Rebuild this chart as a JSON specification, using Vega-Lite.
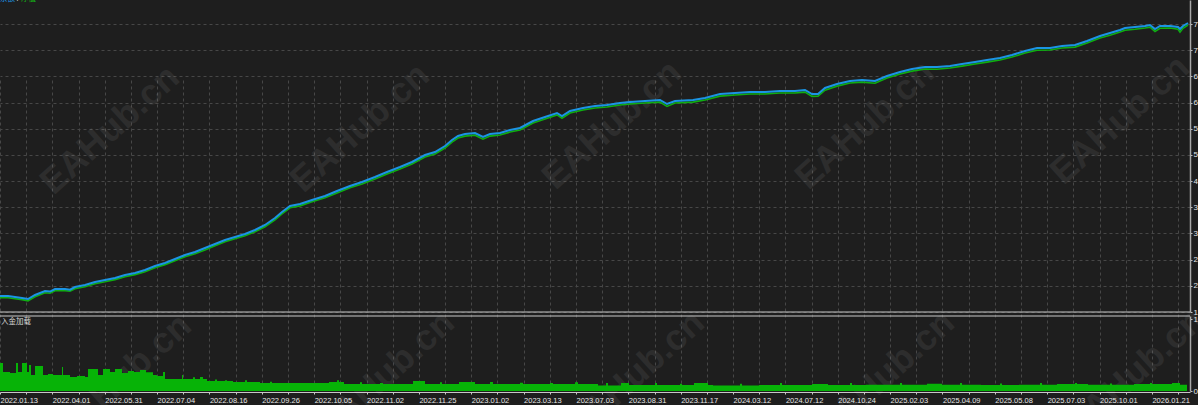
{
  "$schema": "https://vega.github.io/schema/vega-lite/v6.json",
  "width": 1190,
  "height": 392,
  "autosize": {"type": "none"},
  "padding": {"left": 0, "top": 0, "right": 8, "bottom": 13},
  "background": "#1e1e1e",
  "config": {
    "view": {"stroke": null},
    "axis": {
      "labelFont": "Liberation Sans",
      "labelFontSize": 7.5,
      "labelColor": "#e6e6e6",
      "tickColor": "#c8c8c8",
      "tickSize": 2,
      "domainColor": "#c8c8c8",
      "gridColor": "#474747",
      "gridDash": [3, 3],
      "labelOverlap": false,
      "labelFlush": false,
      "title": null
    }
  },
  "datasets": {
    "curve": [
      {"d": 0, "bal": 20361, "eq": 20000}, {"d": 8, "bal": 20361, "eq": 20000}, {"d": 15, "bal": 20151, "eq": 19800},
      {"d": 22, "bal": 19941, "eq": 19600}, {"d": 28, "bal": 19731, "eq": 19350}, {"d": 35, "bal": 20571, "eq": 20200},
      {"d": 45, "bal": 21412, "eq": 21050}, {"d": 50, "bal": 21300, "eq": 20950}, {"d": 55, "bal": 21832, "eq": 21480}, {"d": 65, "bal": 21832, "eq": 21450},
      {"d": 70, "bal": 21700, "eq": 21350}, {"d": 75, "bal": 22252, "eq": 21900}, {"d": 85, "bal": 22672, "eq": 22300}, {"d": 95, "bal": 23302, "eq": 22950},
      {"d": 105, "bal": 23723, "eq": 23350}, {"d": 115, "bal": 24143, "eq": 23800}, {"d": 125, "bal": 24773, "eq": 24400},
      {"d": 135, "bal": 25193, "eq": 24850}, {"d": 145, "bal": 25823, "eq": 25450}, {"d": 155, "bal": 26664, "eq": 26300},
      {"d": 165, "bal": 27294, "eq": 26950}, {"d": 175, "bal": 28134, "eq": 27750}, {"d": 185, "bal": 28975, "eq": 28600},
      {"d": 195, "bal": 29605, "eq": 29250}, {"d": 205, "bal": 30445, "eq": 30050}, {"d": 215, "bal": 31285, "eq": 30900},
      {"d": 225, "bal": 32126, "eq": 31750}, {"d": 235, "bal": 32756, "eq": 32400}, {"d": 245, "bal": 33386, "eq": 33000},
      {"d": 255, "bal": 34227, "eq": 33850}, {"d": 265, "bal": 35277, "eq": 34900}, {"d": 275, "bal": 36748, "eq": 36350},
      {"d": 282, "bal": 38008, "eq": 37600}, {"d": 290, "bal": 39268, "eq": 38900}, {"d": 300, "bal": 39689, "eq": 39300},
      {"d": 312, "bal": 40529, "eq": 40150}, {"d": 325, "bal": 41369, "eq": 41000}, {"d": 337, "bal": 42420, "eq": 42000},
      {"d": 350, "bal": 43470, "eq": 43100}, {"d": 362, "bal": 44310, "eq": 43900}, {"d": 375, "bal": 45361, "eq": 44950},
      {"d": 387, "bal": 46411, "eq": 46000}, {"d": 400, "bal": 47462, "eq": 47050}, {"d": 412, "bal": 48512, "eq": 48100},
      {"d": 425, "bal": 49983, "eq": 49550}, {"d": 435, "bal": 50613, "eq": 50200}, {"d": 445, "bal": 51873, "eq": 51450},
      {"d": 452, "bal": 53134, "eq": 52700}, {"d": 458, "bal": 53974, "eq": 53550}, {"d": 465, "bal": 54394, "eq": 53950},
      {"d": 475, "bal": 54604, "eq": 54150}, {"d": 483, "bal": 53764, "eq": 53300}, {"d": 490, "bal": 54394, "eq": 53950},
      {"d": 500, "bal": 54604, "eq": 54200}, {"d": 510, "bal": 55235, "eq": 54800}, {"d": 520, "bal": 55655, "eq": 55250},
      {"d": 533, "bal": 57125, "eq": 56700}, {"d": 545, "bal": 57966, "eq": 57550}, {"d": 557, "bal": 58806, "eq": 58400},
      {"d": 562, "bal": 58176, "eq": 57700}, {"d": 570, "bal": 59226, "eq": 58800}, {"d": 583, "bal": 59856, "eq": 59450},
      {"d": 595, "bal": 60276, "eq": 59850}, {"d": 607, "bal": 60487, "eq": 60050}, {"d": 620, "bal": 60907, "eq": 60500},
      {"d": 630, "bal": 61117, "eq": 60700}, {"d": 645, "bal": 61327, "eq": 60900}, {"d": 660, "bal": 61537, "eq": 61100},
      {"d": 667, "bal": 60697, "eq": 60200}, {"d": 675, "bal": 61327, "eq": 60900}, {"d": 693, "bal": 61537, "eq": 61100},
      {"d": 705, "bal": 61957, "eq": 61550}, {"d": 720, "bal": 62797, "eq": 62350}, {"d": 735, "bal": 63008, "eq": 62600},
      {"d": 750, "bal": 63218, "eq": 62800}, {"d": 765, "bal": 63218, "eq": 62800}, {"d": 780, "bal": 63428, "eq": 63000},
      {"d": 795, "bal": 63428, "eq": 63000}, {"d": 805, "bal": 63638, "eq": 63200}, {"d": 812, "bal": 62797, "eq": 62300},
      {"d": 818, "bal": 62797, "eq": 62350}, {"d": 825, "bal": 64058, "eq": 63600}, {"d": 837, "bal": 64898, "eq": 64450},
      {"d": 850, "bal": 65528, "eq": 65100}, {"d": 862, "bal": 65739, "eq": 65300}, {"d": 875, "bal": 65528, "eq": 65050},
      {"d": 887, "bal": 66579, "eq": 66150}, {"d": 900, "bal": 67419, "eq": 67000}, {"d": 912, "bal": 68049, "eq": 67600},
      {"d": 925, "bal": 68470, "eq": 68050}, {"d": 937, "bal": 68470, "eq": 68000}, {"d": 950, "bal": 68680, "eq": 68250},
      {"d": 962, "bal": 69100, "eq": 68650}, {"d": 975, "bal": 69520, "eq": 69100}, {"d": 987, "bal": 69940, "eq": 69500},
      {"d": 1000, "bal": 70360, "eq": 69950}, {"d": 1012, "bal": 70991, "eq": 70550}, {"d": 1025, "bal": 71831, "eq": 71400},
      {"d": 1037, "bal": 72461, "eq": 72000}, {"d": 1050, "bal": 72461, "eq": 72050}, {"d": 1062, "bal": 72881, "eq": 72450},
      {"d": 1075, "bal": 73091, "eq": 72650}, {"d": 1087, "bal": 73932, "eq": 73500}, {"d": 1100, "bal": 74982, "eq": 74550},
      {"d": 1110, "bal": 75612, "eq": 75150}, {"d": 1120, "bal": 76243, "eq": 75800}, {"d": 1125, "bal": 76663, "eq": 76200},
      {"d": 1135, "bal": 76873, "eq": 76400}, {"d": 1145, "bal": 77083, "eq": 76650}, {"d": 1150, "bal": 77293, "eq": 76850},
      {"d": 1155, "bal": 76453, "eq": 75950}, {"d": 1160, "bal": 77083, "eq": 76600}, {"d": 1170, "bal": 77083, "eq": 76650},
      {"d": 1178, "bal": 76873, "eq": 76400}, {"d": 1180, "bal": 76453, "eq": 75800}, {"d": 1183, "bal": 77083, "eq": 76600},
      {"d": 1188, "bal": 77713, "eq": 77300}
    ],
    "load": [
      {"d": 0, "load": 38.9}, {"d": 3, "load": 26.4}, {"d": 10, "load": 25}, {"d": 16, "load": 38.9}, {"d": 18, "load": 26.4},
      {"d": 22, "load": 38.9}, {"d": 27, "load": 26.4}, {"d": 29, "load": 36.1}, {"d": 31, "load": 22.2}, {"d": 35, "load": 34.7},
      {"d": 43, "load": 22.2}, {"d": 48, "load": 23.6}, {"d": 53, "load": 22.2}, {"d": 62, "load": 33.3}, {"d": 63, "load": 22.2},
      {"d": 70, "load": 19.4}, {"d": 77, "load": 20.8}, {"d": 85, "load": 19.4}, {"d": 88, "load": 30.6}, {"d": 98, "load": 22.2},
      {"d": 103, "load": 30.6}, {"d": 110, "load": 26.4}, {"d": 115, "load": 30.6}, {"d": 122, "load": 25}, {"d": 128, "load": 27.8},
      {"d": 134, "load": 26.4}, {"d": 140, "load": 29}, {"d": 146, "load": 26}, {"d": 153, "load": 22.2}, {"d": 157, "load": 20.8},
      {"d": 163, "load": 26.4}, {"d": 165, "load": 16.7}, {"d": 182, "load": 22.2}, {"d": 183, "load": 16.7}, {"d": 193, "load": 19},
      {"d": 195, "load": 16.7}, {"d": 200, "load": 19.4}, {"d": 203, "load": 16.7}, {"d": 207, "load": 13.9}, {"d": 215, "load": 16},
      {"d": 217, "load": 13.9}, {"d": 225, "load": 15}, {"d": 227, "load": 13.9}, {"d": 233, "load": 12.5}, {"d": 245, "load": 15},
      {"d": 247, "load": 12.5}, {"d": 260, "load": 11.1}, {"d": 270, "load": 13}, {"d": 272, "load": 11.1}, {"d": 300, "load": 11.1},
      {"d": 329, "load": 12.5}, {"d": 337, "load": 15}, {"d": 339, "load": 12.5}, {"d": 344, "load": 9.7}, {"d": 360, "load": 12},
      {"d": 362, "load": 9.7}, {"d": 380, "load": 11}, {"d": 383, "load": 9.7}, {"d": 413, "load": 13.9}, {"d": 425, "load": 9.7},
      {"d": 440, "load": 12}, {"d": 442, "load": 9.7}, {"d": 459, "load": 12.5}, {"d": 475, "load": 9.7}, {"d": 490, "load": 12.5},
      {"d": 493, "load": 9.7}, {"d": 520, "load": 11.5}, {"d": 523, "load": 9.7}, {"d": 550, "load": 11}, {"d": 553, "load": 9.7},
      {"d": 575, "load": 12}, {"d": 578, "load": 9.7}, {"d": 598, "load": 7.6}, {"d": 606, "load": 11.1}, {"d": 608, "load": 7.6},
      {"d": 621, "load": 11.1}, {"d": 629, "load": 8.3}, {"d": 655, "load": 11}, {"d": 657, "load": 8.3}, {"d": 680, "load": 10},
      {"d": 682, "load": 8.3}, {"d": 694, "load": 11.1}, {"d": 708, "load": 8.3}, {"d": 713, "load": 7.5}, {"d": 740, "load": 10},
      {"d": 742, "load": 7.5}, {"d": 759, "load": 8.5}, {"d": 780, "load": 11}, {"d": 782, "load": 8.5}, {"d": 812, "load": 9.7},
      {"d": 828, "load": 8.3}, {"d": 850, "load": 11}, {"d": 852, "load": 8.3}, {"d": 866, "load": 8.8}, {"d": 900, "load": 11},
      {"d": 902, "load": 8.8}, {"d": 927, "load": 10}, {"d": 942, "load": 8.8}, {"d": 960, "load": 11}, {"d": 962, "load": 8.8},
      {"d": 981, "load": 8.3}, {"d": 1000, "load": 10.5}, {"d": 1002, "load": 8.3}, {"d": 1019, "load": 8.8}, {"d": 1040, "load": 11},
      {"d": 1042, "load": 8.8}, {"d": 1057, "load": 9.7}, {"d": 1075, "load": 11}, {"d": 1077, "load": 9.7}, {"d": 1088, "load": 8.8},
      {"d": 1110, "load": 10.5}, {"d": 1112, "load": 8.8}, {"d": 1134, "load": 9.7}, {"d": 1150, "load": 11}, {"d": 1152, "load": 9.7},
      {"d": 1172, "load": 11.1}, {"d": 1180, "load": 8.8}, {"d": 1187, "load": 0}
    ],
    "wmTop": [
      {"d": 110, "v": 55232, "t": "EAHub.cn"}, {"d": 360, "v": 55654, "t": "EAHub.cn"}, {"d": 612, "v": 56285, "t": "EAHub.cn"},
      {"d": 865, "v": 56285, "t": "EAHub.cn"}, {"d": 1120, "v": 57336, "t": "EAHub.cn"}
    ],
    "wmBottom": [
      {"d": 122, "p": 18, "t": "EAHub.cn"}, {"d": 385, "p": 22, "t": "EAHub.cn"}, {"d": 635, "p": 22, "t": "EAHub.cn"},
      {"d": 885, "p": 22, "t": "EAHub.cn"}, {"d": 1135, "p": 25, "t": "EAHub.cn"}
    ]
  },
  "layer": [
    {
      "layer": [
        {
          "data": {"name": "wmTop"},
          "mark": {"type": "text", "font": "Liberation Sans", "fontWeight": "bold", "fontSize": 36, "angle": -42, "color": "#ffffff", "opacity": 0.065, "align": "center", "baseline": "middle"},
          "encoding": {
            "x": {"field": "d", "type": "quantitative", "scale": {"domain": [0, 1190], "nice": false, "zero": false},
              "axis": {
                "orient": "bottom",
                "tickCount": 1000,
                "values": [0, 26.18, 52.36, 78.54, 104.72, 130.9, 157.08, 183.26, 209.44, 235.62, 261.8, 287.98, 314.16, 340.34, 366.52, 392.7, 418.88, 445.06, 471.24, 497.42, 523.6, 549.78, 575.96, 602.14, 628.32, 654.5, 680.68, 706.86, 733.04, 759.22, 785.4, 811.58, 837.76, 863.94, 890.12, 916.3, 942.48, 968.66, 994.84, 1021.02, 1047.2, 1073.38, 1099.56, 1125.74, 1151.92, 1178.1],
                "labelExpr": "round(datum.value/26.18) % 2 == 0 ? ['2022.01.13','2022.04.01','2022.05.31','2022.07.04','2022.08.16','2022.09.26','2022.10.05','2022.11.02','2022.11.25','2023.01.02','2023.03.13','2023.07.03','2023.08.31','2023.11.17','2024.03.12','2024.07.12','2024.10.24','2025.02.03','2025.04.09','2025.05.08','2025.07.03','2025.10.01','2026.01.21'][round(datum.value/52.36)] : ''",
                "labelAlign": "left",
                "labelPadding": 2,
                "labelOverlap": false,
                "grid": true,
                "domain": true
              }
            },
            "y": {"field": "v", "type": "quantitative", "scale": {"domain": [17000, 82545], "range": [312, 0], "nice": false, "zero": false},
              "axis": {
                "orient": "right",
                "tickCount": 1000,
                "values": [17000, 22500, 28000, 33500, 39000, 44500, 50000, 55500, 61000, 66500, 72000, 77500],
                "format": "d",
                "grid": true,
                "labelOverlap": false,
                "domainColor": "#a8a8a8",
                "domainWidth": 1.5,
                "labelPadding": 1,
                "labelFontSize": 8
              }
            },
            "text": {"field": "t"}
          }
        },
        {
          "data": {"name": "curve"},
          "mark": {"type": "line", "color": "#0fae12", "strokeWidth": 1.6},
          "encoding": {
            "x": {"field": "d", "type": "quantitative"},
            "y": {"field": "eq", "type": "quantitative"}
          }
        },
        {
          "data": {"name": "curve"},
          "mark": {"type": "line", "color": "#1b95e4", "strokeWidth": 2},
          "encoding": {
            "x": {"field": "d", "type": "quantitative"},
            "y": {"field": "bal", "type": "quantitative"}
          }
        },
        {
          "data": {"values": [{}]},
          "mark": {"type": "rule", "color": "#c8c8c8", "strokeWidth": 1},
          "encoding": {"y": {"datum": 17000, "type": "quantitative"}}
        },
        {
          "data": {"values": [{"t": "余额"}]},
          "mark": {"type": "text", "font": "Noto Sans CJK SC", "fontSize": 7.5, "color": "#1b95e4", "align": "left", "baseline": "middle", "dx": 0, "dy": -1},
          "encoding": {"x": {"datum": 0, "type": "quantitative"}, "y": {"datum": 82545, "type": "quantitative"}, "text": {"field": "t"}}
        },
        {
          "data": {"values": [{"t": "/"}]},
          "mark": {"type": "text", "font": "Liberation Sans", "fontSize": 7.5, "color": "#e6e6e6", "align": "left", "baseline": "middle", "dx": 17, "dy": -1},
          "encoding": {"x": {"datum": 0, "type": "quantitative"}, "y": {"datum": 82545, "type": "quantitative"}, "text": {"field": "t"}}
        },
        {
          "data": {"values": [{"t": "净值"}]},
          "mark": {"type": "text", "font": "Noto Sans CJK SC", "fontSize": 7.5, "color": "#14b814", "align": "left", "baseline": "middle", "dx": 21, "dy": -1},
          "encoding": {"x": {"datum": 0, "type": "quantitative"}, "y": {"datum": 82545, "type": "quantitative"}, "text": {"field": "t"}}
        }
      ]
    },
    {
      "layer": [
        {
          "data": {"name": "wmBottom"},
          "mark": {"type": "text", "font": "Liberation Sans", "fontWeight": "bold", "fontSize": 36, "angle": -42, "color": "#ffffff", "opacity": 0.065, "align": "center", "baseline": "middle"},
          "encoding": {
            "x": {"field": "d", "type": "quantitative"},
            "y": {"field": "p", "type": "quantitative", "scale": {"domain": [0, 104.17], "range": [391, 316], "nice": false, "zero": false},
              "axis": {
                "orient": "right",
                "tickCount": 1000,
                "values": [0, 100],
                "format": "d",
                "grid": false,
                "labelOverlap": false,
                "domainColor": "#a8a8a8",
                "domainWidth": 1.5,
                "labelPadding": 1,
                "labelFontSize": 8
              }
            },
            "text": {"field": "t"}
          }
        },
        {
          "data": {"name": "load"},
          "mark": {"type": "area", "interpolate": "step-after", "color": "#07b307"},
          "encoding": {
            "x": {"field": "d", "type": "quantitative"},
            "y": {"field": "load", "type": "quantitative"}
          }
        },
        {
          "data": {"values": [{}]},
          "mark": {"type": "rule", "color": "#c8c8c8", "strokeWidth": 1},
          "encoding": {"y": {"datum": 104.17, "type": "quantitative"}}
        },
        {
          "data": {"values": [{"t": "入金加载"}]},
          "mark": {"type": "text", "font": "Noto Sans CJK SC", "fontSize": 7.5, "color": "#d8d8d8", "align": "left", "baseline": "middle", "dx": 1},
          "encoding": {"x": {"datum": 0, "type": "quantitative"}, "y": {"datum": 95.8, "type": "quantitative"}, "text": {"field": "t"}}
        }
      ]
    }
  ],
  "resolve": {"scale": {"y": "independent"}, "axis": {"y": "independent"}}
}
